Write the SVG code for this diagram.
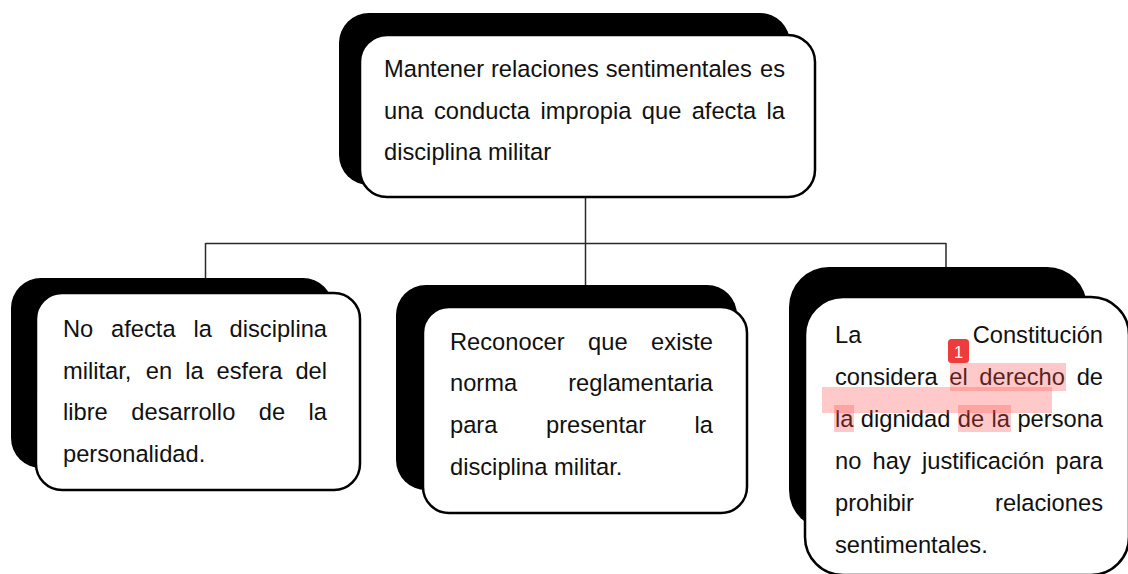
<svg xmlns="http://www.w3.org/2000/svg" width="1128" height="574" viewBox="0 0 1128 574">
<style>
.shadow{fill:#000}
.box{fill:#fff;stroke:#000;stroke-width:2.5}
.t{font-family:"Liberation Sans",Arial,Helvetica,sans-serif;font-size:23.7px;fill:#111}
.e{text-anchor:end}
.conn{stroke:#2a2a2a;stroke-width:1.5;fill:none}
.hl{fill:#ff4d4d;fill-opacity:0.3}
</style>
<rect width="1128" height="574" fill="#fff"/>
<g id="connectors">
<line class="conn" x1="585.5" y1="197" x2="585.5" y2="287"/>
<line class="conn" x1="205.5" y1="243.5" x2="946" y2="243.5"/>
<line class="conn" x1="205.5" y1="243" x2="205.5" y2="279"/>
<line class="conn" x1="946" y1="243" x2="946" y2="268"/>
</g>
<g id="node-top">
<rect class="shadow" x="339" y="13" width="451" height="172" rx="30"/>
<rect class="box" x="360" y="35" width="455" height="162" rx="27"/>
<text class="t" y="77"><tspan x="384">Mantener</tspan><tspan x="490.9">relaciones</tspan><tspan x="605.7">sentimentales</tspan><tspan x="785" class="e">es</tspan></text>
<text class="t" y="118.5"><tspan x="384">una</tspan><tspan x="433.9">conducta</tspan><tspan x="540.5">impropia</tspan><tspan x="641.8">que</tspan><tspan x="691.7">afecta</tspan><tspan x="785" class="e">la</tspan></text>
<text class="t" x="384" y="160">disciplina militar</text>
</g>
<g id="node-left">
<rect class="shadow" x="11" y="278" width="322" height="190" rx="30"/>
<rect class="box" x="36" y="293" width="324" height="197" rx="26"/>
<text class="t" y="337"><tspan x="63">No</tspan><tspan x="111.1">afecta</tspan><tspan x="193.5">la</tspan><tspan x="327" class="e">disciplina</tspan></text>
<text class="t" y="378.5"><tspan x="63">militar,</tspan><tspan x="145.8">en</tspan><tspan x="185.2">la</tspan><tspan x="216.6">esfera</tspan><tspan x="327" class="e">del</tspan></text>
<text class="t" y="420"><tspan x="63">libre</tspan><tspan x="131.3">desarrollo</tspan><tspan x="258.8">de</tspan><tspan x="327" class="e">la</tspan></text>
<text class="t" x="63" y="462">personalidad.</text>
</g>
<g id="node-middle">
<rect class="shadow" x="396" y="285" width="341" height="205" rx="30"/>
<rect class="box" x="423" y="307" width="324" height="206" rx="26"/>
<text class="t" y="349.5"><tspan x="450">Reconocer</tspan><tspan x="588.1">que</tspan><tspan x="713" class="e">existe</tspan></text>
<text class="t" y="391"><tspan x="450">norma</tspan><tspan x="713" class="e">reglamentaria</tspan></text>
<text class="t" y="433"><tspan x="450">para</tspan><tspan x="546">presentar</tspan><tspan x="713" class="e">la</tspan></text>
<text class="t" x="450" y="475">disciplina militar.</text>
</g>
<g id="node-right">
<rect class="shadow" x="789" y="267" width="298" height="263" rx="40"/>
<rect class="box" x="805" y="297" width="324" height="278" rx="38"/>
<text class="t" y="343"><tspan x="835">La</tspan><tspan x="1103" class="e">Constitución</tspan></text>
<text class="t" y="385"><tspan x="835">considera</tspan><tspan x="949.3">el</tspan><tspan x="979.3">derecho</tspan><tspan x="1103" class="e">de</tspan></text>
<text class="t" y="427"><tspan x="835">la</tspan><tspan x="860.8">dignidad</tspan><tspan x="957.8">de</tspan><tspan x="991.6">la</tspan><tspan x="1103" class="e">persona</tspan></text>
<text class="t" y="469"><tspan x="835">no</tspan><tspan x="872.6">hay</tspan><tspan x="922">justificación</tspan><tspan x="1103" class="e">para</tspan></text>
<text class="t" y="511"><tspan x="835">prohibir</tspan><tspan x="1103" class="e">relaciones</tspan></text>
<text class="t" x="835" y="553">sentimentales.</text>
</g>
<g id="annotation">
<rect class="hl" x="950" y="363" width="116" height="28"/>
<rect class="hl" x="822" y="387" width="230" height="26"/>
<rect class="hl" x="834" y="405" width="20" height="27"/>
<rect class="hl" x="958" y="405" width="53" height="27"/>
<rect x="948" y="339" width="21" height="24" rx="3.5" fill="#ee3b3b"/>
<text x="958.5" y="357.5" font-family="Liberation Sans, Arial, sans-serif" font-size="16.5" fill="#fff" text-anchor="middle">1</text>
</g>
</svg>
